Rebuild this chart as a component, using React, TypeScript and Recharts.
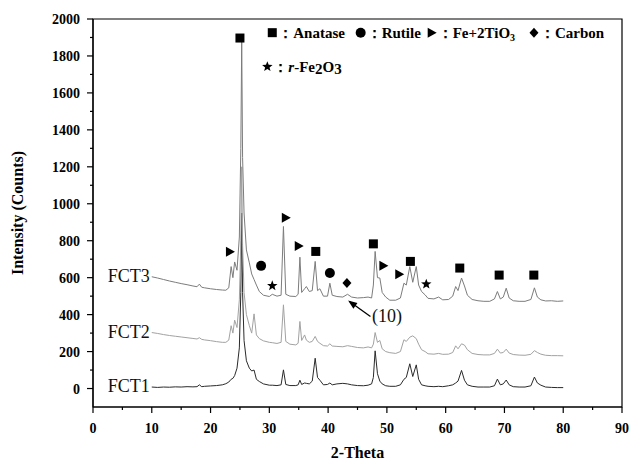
import React from 'react';
import {
  ComposedChart,
  Line,
  Scatter,
  XAxis,
  YAxis,
  ReferenceArea,
  ReferenceDot,
  ReferenceLine,
} from 'recharts';

// 2-theta positions (deg)
const twoTheta = [
  10, 11, 12, 13, 14, 15, 16, 17, 17.7, 18.1,
  18.5, 19, 20, 21, 22, 22.6, 23.1, 23.5, 23.8, 24.1,
  24.5, 24.9, 25.15, 25.3, 25.45, 25.7, 26.1, 26.6, 27.0, 27.4,
  27.8, 28.3, 29, 30, 30.5, 31.3, 32.0, 32.4, 32.8, 33.5,
  34.5, 34.9, 35.2, 35.5, 36.0, 36.3, 36.8, 37.3, 37.8, 38.2,
  38.6, 39.2, 39.9, 40.3, 40.7, 41.5, 42.5, 43.3, 44, 45,
  46, 46.8, 47.4, 47.7, 48.0, 48.4, 48.8, 49.2, 49.8, 50.5,
  51.5, 52.3, 52.9, 53.3, 53.9, 54.4, 55.0, 55.4, 55.9, 56.5,
  57, 58, 58.8, 59.5, 60.5, 61.2, 61.7, 62.1, 62.7, 63.2,
  63.7, 64.5, 65.5, 66.5, 67.5, 68.3, 68.8, 69.3, 69.8, 70.3,
  70.8, 71.5, 72.5, 73.5, 74.5, 75.1, 75.6, 76.2, 77, 78,
  79, 80,
];

const fct1 = [
  8, 6, 8, 7, 9, 8, 10, 9, 10, 20,
  10, 12, 14, 16, 20, 26, 35, 50, 55, 70,
  110, 220, 520, 950, 520, 260, 150, 110, 95, 100,
  50, 38, 25, 18, 18, 16, 20, 101, 22, 16,
  16, 20, 45, 22, 30, 28, 25, 40, 164, 60,
  45, 20, 22, 30, 20, 25, 28, 25, 20, 16,
  15, 18, 25, 60, 204, 80, 40, 25, 15, 12,
  12, 20, 50, 60, 134, 65, 128, 50, 20, 15,
  12, 10, 12, 10, 15, 20, 30, 40, 98, 45,
  20, 12, 8, 8, 8, 15, 51, 20, 25, 46,
  20, 10, 8, 8, 15, 62, 30, 18, 8, 6,
  5, 5,
];

const fct2 = [
  303, 298, 292, 287, 283, 279, 275, 271, 268, 275,
  266, 263, 259, 254, 250, 250, 262, 340, 300, 370,
  330, 480, 800, 1200, 780, 520, 400, 340, 300, 404,
  290, 270, 258, 250, 248, 244, 250, 453, 255, 240,
  236, 245, 363, 260, 290, 262, 250, 255, 282, 255,
  245, 232, 230, 242, 230, 228, 226, 232, 228, 222,
  220, 225, 220, 240, 303, 250, 260, 215, 200, 194,
  190, 200, 264, 255, 278, 285, 270, 240, 210, 200,
  188, 186, 190, 185, 186, 195, 231, 215, 242, 235,
  210, 190, 184, 182, 182, 190, 213, 192, 195, 213,
  192, 184, 181, 180, 185, 205, 195, 186, 180, 178,
  178, 177,
];

const fct3 = [
  605, 598, 590, 582, 575, 568, 562, 555, 551, 565,
  548, 545, 540, 536, 533, 532, 545, 660, 600, 685,
  640, 820, 1300, 1880, 1250, 950, 750, 680, 620, 590,
  560, 525, 505, 498, 510, 500, 505, 877, 510, 500,
  498, 510, 711, 520, 540, 552, 525, 530, 688, 530,
  540, 500, 500, 570, 505, 498, 495, 510, 495, 490,
  492, 495, 490, 560, 742, 600, 598, 520, 495, 478,
  478, 490, 570, 560, 660, 575, 660, 560, 525, 507,
  488, 485, 495, 480, 482, 500, 552, 530, 598, 555,
  505, 482, 475, 472, 472, 485, 525, 485, 495, 543,
  490, 475, 472, 472, 482, 545, 495, 480, 474, 475,
  472, 474,
];

const seriesNames = ['FCT1', 'FCT2', 'FCT3'];
const seriesColors = ['#2a2a2a', '#a2a2a2', '#7c7c7c'];

// phase markers above the peaks: [2-theta, intensity, phase]
const markT = [25.0, 23.3, 28.6, 30.5, 32.8, 35.0, 37.9, 40.3, 43.2, 47.7, 49.4, 52.1, 54.0, 56.7, 62.4, 69.1, 75.0];
const markY = [1897, 740, 664, 556, 924, 772, 742, 625, 571, 783, 664, 619, 688, 565, 652, 614, 614];
const markKind = [
  'square', 'tri', 'circle', 'star', 'tri', 'tri', 'square', 'circle', 'diamond',
  'square', 'tri', 'tri', 'square', 'star', 'square', 'square', 'square',
];

const legendKinds = ['square', 'circle', 'tri', 'diamond'];
const legendNames = ['Anatase', 'Rutile', 'Fe+2TiO', 'Carbon'];

const xTicks = [0, 5, 10, 15, 20, 25, 30, 35, 40, 45, 50, 55, 60, 65, 70, 75, 80, 85, 90];
const yTicks = [
  0, 100, 200, 300, 400, 500, 600, 700, 800, 900, 1000,
  1100, 1200, 1300, 1400, 1500, 1600, 1700, 1800, 1900, 2000,
];

const rows = twoTheta.map((t, i) => ({ t, fct1: fct1[i], fct2: fct2[i], fct3: fct3[i] }));
const marks = markT.map((t, i) => ({ t, y: markY[i], kind: markKind[i] }));
const keys = ['fct1', 'fct2', 'fct3'];

const serif = '"Liberation Serif", "Times New Roman", "DejaVu Serif", serif';
const tickFont = { fontFamily: serif, fontWeight: 700, fontSize: 14, fill: '#000' };
const titleFont = { fontFamily: serif, fontWeight: 700, fontSize: 16, fill: '#000' };
const noteFont = { fontFamily: serif, fontSize: 18, fill: '#111' };
const legendFont = { fontFamily: serif, fontWeight: 700, fontSize: 15, fill: '#000' };

function Glyph({ kind, cx, cy }: { kind: string; cx: number; cy: number }) {
  if (kind === 'square') return <rect x={cx - 4.5} y={cy - 4.5} width={9} height={9} fill="#000" />;
  if (kind === 'circle') return <circle cx={cx} cy={cy} r={5} fill="#000" />;
  if (kind === 'tri')
    return <polygon points={`${cx - 4},${cy - 5} ${cx + 5},${cy} ${cx - 4},${cy + 5}`} fill="#000" />;
  if (kind === 'diamond')
    return <polygon points={`${cx},${cy - 5} ${cx + 4.5},${cy} ${cx},${cy + 5} ${cx - 4.5},${cy}`} fill="#000" />;
  const pts: string[] = [];
  for (let k = 0; k < 10; k++) {
    const r = k % 2 === 0 ? 5.5 : 2.3;
    const a = -Math.PI / 2 + (k * Math.PI) / 5;
    pts.push(`${cx + r * Math.cos(a)},${cy + r * Math.sin(a)}`);
  }
  return <polygon points={pts.join(' ')} fill="#000" />;
}

const XTick = (props: any) => {
  const { x, y, payload } = props;
  const major = payload.value % 10 === 0;
  return (
    <g>
      <line x1={x} y1={y} x2={x} y2={y + (major ? 6 : 3)} stroke="#000" strokeWidth={1.2} />
      {major && (
        <text x={x} y={y + 26} textAnchor="middle" style={tickFont}>
          {payload.value}
        </text>
      )}
    </g>
  );
};

const YTick = (props: any) => {
  const { x, y, payload } = props;
  const major = payload.value % 200 === 0;
  return (
    <g>
      <line x1={x} y1={y} x2={x - (major ? 6 : 3)} y2={y} stroke="#000" strokeWidth={1.2} />
      {major && (
        <text x={x - 13} y={y + 5} textAnchor="end" style={tickFont}>
          {payload.value}
        </text>
      )}
    </g>
  );
};

const legendOffsets = [0, 88.4, 159.4, 261.7];

const LegendTop = (p: any) => (
  <g>
    {legendKinds.map((k, i) => (
      <g key={k}>
        <Glyph kind={k} cx={p.cx + legendOffsets[i]} cy={p.cy} />
        <text x={p.cx + legendOffsets[i] + 6} y={p.cy + 5} style={legendFont}>
          {'：' + legendNames[i]}
          {i === 2 && (
            <tspan fontSize={10} dy={3}>
              3
            </tspan>
          )}
        </text>
      </g>
    ))}
  </g>
);

const LegendSecond = (p: any) => (
  <g>
    <Glyph kind="star" cx={p.cx} cy={p.cy} />
    <text x={p.cx + 6} y={p.cy + 5} style={legendFont}>
      {'：'}
      <tspan fontStyle="italic">r</tspan>
      {'-Fe'}
      <tspan dy={2}>2</tspan>
      <tspan dy={-2}>O</tspan>
      <tspan dy={2}>3</tspan>
    </text>
  </g>
);

export default function App() {
  return (
    <div style={{ position: 'absolute', left: 0, top: 0, width: 631, height: 466, background: '#fff' }}>
      <ComposedChart width={631} height={466} data={rows} margin={{ top: 19, right: 9, bottom: 0, left: 0 }}>
        <XAxis
          dataKey="t"
          type="number"
          domain={[0, 90]}
          ticks={xTicks}
          interval={0}
          tickSize={0}
          tickMargin={0}
          tickLine={false}
          tick={<XTick />}
          axisLine={{ stroke: '#000', strokeWidth: 1.2 }}
          height={59}
          label={{
            content: (p: any) => (
              <text
                x={p.viewBox.x + p.viewBox.width / 2}
                y={p.viewBox.y + 51}
                textAnchor="middle"
                style={titleFont}
              >
                2-Theta
              </text>
            ),
          }}
        />
        <YAxis
          type="number"
          domain={[-100, 2000]}
          ticks={yTicks}
          interval={0}
          tickSize={0}
          tickMargin={0}
          tickLine={false}
          tick={<YTick />}
          axisLine={{ stroke: '#000', strokeWidth: 1.2 }}
          width={93}
          label={{
            content: (p: any) => (
              <text
                transform={`translate(23, ${p.viewBox.y + p.viewBox.height / 2}) rotate(-90)`}
                textAnchor="middle"
                style={titleFont}
              >
                Intensity (Counts)
              </text>
            ),
          }}
        />
        <ReferenceArea x1={0} x2={90} y1={-100} y2={2000} fill="none" stroke="#000" strokeWidth={1.2} />

        {keys.map((k, i) => (
          <Line
            key={k}
            dataKey={k}
            name={seriesNames[i]}
            type="linear"
            stroke={seriesColors[i]}
            strokeWidth={1}
            dot={false}
            isAnimationActive={false}
          />
        ))}

        <Scatter
          data={marks}
          dataKey="y"
          isAnimationActive={false}
          shape={(p: any) => <Glyph kind={p.payload.kind} cx={p.cx} cy={p.cy} />}
        />

        {keys.map((k, i) => (
          <ReferenceDot
            key={'lab' + k}
            x={twoTheta[0]}
            y={rows[0][k as 'fct1']}
            r={0}
            shape={(p: any) => (
              <text x={p.cx - 2} y={p.cy + 5} textAnchor="end" style={noteFont}>
                {seriesNames[i]}
              </text>
            )}
          />
        ))}

        <ReferenceLine
          segment={[
            { x: 47.2, y: 390 },
            { x: 43.7, y: 470 },
          ]}
          stroke="#000"
          strokeWidth={1.3}
        />
        <ReferenceDot
          x={43.4}
          y={476}
          r={0}
          shape={(p: any) => (
            <polygon
              points="0,0 -9,-3.5 -9,3.5"
              fill="#000"
              transform={`translate(${p.cx},${p.cy}) rotate(-144.6)`}
            />
          )}
        />
        <ReferenceDot
          x={47.3}
          y={390}
          r={0}
          shape={(p: any) => (
            <text x={p.cx + 1} y={p.cy + 6} style={noteFont}>
              (10)
            </text>
          )}
        />

        <ReferenceDot x={30.5} y={1926} r={0} shape={(p: any) => <LegendTop cx={p.cx} cy={p.cy} />} />
        <ReferenceDot x={29.66} y={1742} r={0} shape={(p: any) => <LegendSecond cx={p.cx} cy={p.cy} />} />
      </ComposedChart>
    </div>
  );
}
